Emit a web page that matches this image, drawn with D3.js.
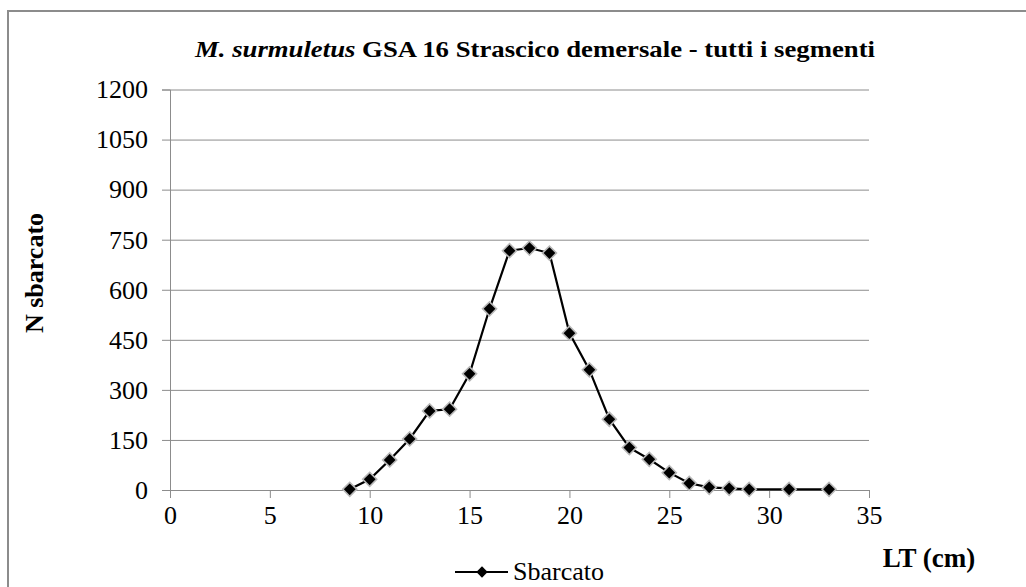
<!DOCTYPE html>
<html>
<head>
<meta charset="utf-8">
<script src="https://cdn.jsdelivr.net/npm/d3@7"></script>
<style>
    body { margin: 0; background: #fff; }
    svg { display: block; }
</style>
</head>
<body>
<svg id="chart" width="1026" height="587"></svg>
<script>
// LT (cm) and landed numbers
const lengths = [9, 10, 11, 12, 13, 14, 15, 16, 17, 18, 19, 20, 21, 22, 23, 24, 25, 26, 27, 28, 29, 31, 33];
const landed = [2, 32, 90, 153, 237, 242, 348, 543, 717, 725, 710, 470, 360, 212, 127, 92, 52, 20, 8, 5, 2, 2, 2];
const xTicks = [0, 5, 10, 15, 20, 25, 30, 35];
const yTicks = [0, 150, 300, 450, 600, 750, 900, 1050, 1200];
const seriesName = "Sbarcato";

const FONT = "'Liberation Serif', 'Times New Roman', serif";

class ChartCreator {
    constructor(svg) {
        this.svg = svg;
        this.left = 170;
        this.right = 869;
        this.top = 89.5;
        this.bottom = 490;
    }

    init() {
        this.points = lengths.map((l, i) => ({x: l, y: landed[i]}));
        this.x = d3.scaleLinear().domain([0, 35]).range([this.left, this.right]);
        this.y = d3.scaleLinear().domain([0, 1200]).range([this.bottom, this.top]);

        this.drawFrame();
        this.drawAxes();
        this.drawSeries();
        this.drawTexts();
        this.drawLegend();
    }

    drawFrame() {
        this.svg.append("rect")
            .attr("x", 8)
            .attr("y", 11)
            .attr("width", 1040)
            .attr("height", 600)
            .attr("fill", "none")
            .attr("stroke", "#8c8c8c")
            .attr("stroke-width", 2);
    }

    drawAxes() {
        // y axis with the gridlines (ticks stretched across the plot)
        const yAxis = this.svg.append("g")
            .attr("transform", `translate(${this.left},0)`)
            .call(d3.axisLeft(this.y).tickValues(yTicks).tickFormat(d3.format("d")).tickSize(8).tickPadding(14));
        yAxis.select(".domain").attr("stroke", "#8c8c8c");
        yAxis.selectAll(".tick line").attr("stroke", "#8c8c8c");
        yAxis.selectAll(".tick")
            .append("line")
            .attr("x1", 0)
            .attr("x2", this.right - this.left)
            .attr("stroke", "#8c8c8c");
        yAxis.selectAll("text")
            .attr("font-family", FONT)
            .attr("font-size", 26)
            .attr("fill", "#000");

        const xAxis = this.svg.append("g")
            .attr("transform", `translate(0,${this.bottom})`)
            .call(d3.axisBottom(this.x).tickValues(xTicks).tickSize(8).tickPadding(8).tickSizeOuter(0));
        xAxis.select(".domain").attr("stroke", "#8c8c8c");
        xAxis.selectAll(".tick line").attr("stroke", "#8c8c8c");
        xAxis.selectAll("text")
            .attr("font-family", FONT)
            .attr("font-size", 26)
            .attr("fill", "#000");
    }

    drawSeries() {
        const line = d3.line()
            .x(d => this.x(d.x))
            .y(d => this.y(d.y));

        this.svg.append("path")
            .datum(this.points)
            .attr("d", line)
            .attr("fill", "none")
            .attr("stroke", "#000")
            .attr("stroke-width", 2.2);

        const diamond = d3.symbol(d3.symbolSquare, 98);
        this.svg.append("g")
            .selectAll("path")
            .data(this.points)
            .join("path")
            .attr("d", diamond)
            .attr("transform", d => `translate(${this.x(d.x)},${this.y(d.y)}) rotate(45)`)
            .attr("fill", "#000")
            .attr("stroke", "#b8b8b8")
            .attr("stroke-width", 1.6);
    }

    drawTexts() {
        // original title glyphs are wide and short, so stretch to its width
        const title = this.svg.append("text")
            .attr("x", 535)
            .attr("y", 57)
            .attr("text-anchor", "middle")
            .attr("font-family", FONT)
            .attr("font-size", 23)
            .attr("font-weight", "bold")
            .attr("textLength", 680)
            .attr("lengthAdjust", "spacingAndGlyphs");
        title.append("tspan").attr("font-style", "italic").text("M. surmuletus");
        title.append("tspan").text(" GSA 16 Strascico demersale - tutti i segmenti");

        this.svg.append("text")
            .attr("transform", "translate(43,273) rotate(-90)")
            .attr("text-anchor", "middle")
            .attr("font-family", FONT)
            .attr("font-size", 26)
            .attr("font-weight", "bold")
            .text("N sbarcato");

        this.svg.append("text")
            .attr("x", 929)
            .attr("y", 567)
            .attr("text-anchor", "middle")
            .attr("font-family", FONT)
            .attr("font-size", 27)
            .attr("font-weight", "bold")
            .text("LT (cm)");
    }

    drawLegend() {
        const legend = this.svg.append("g").attr("transform", "translate(455,572)");
        legend.append("line")
            .attr("x1", 0)
            .attr("x2", 53)
            .attr("stroke", "#000")
            .attr("stroke-width", 2.2);
        legend.append("path")
            .attr("d", d3.symbol(d3.symbolSquare, 64))
            .attr("transform", "translate(27,0) rotate(45)")
            .attr("fill", "#000");
        legend.append("text")
            .attr("x", 58)
            .attr("y", 8)
            .attr("font-family", FONT)
            .attr("font-size", 26)
            .text(seriesName);
    }
}

new ChartCreator(d3.select("#chart")).init();
</script>
</body>
</html>
